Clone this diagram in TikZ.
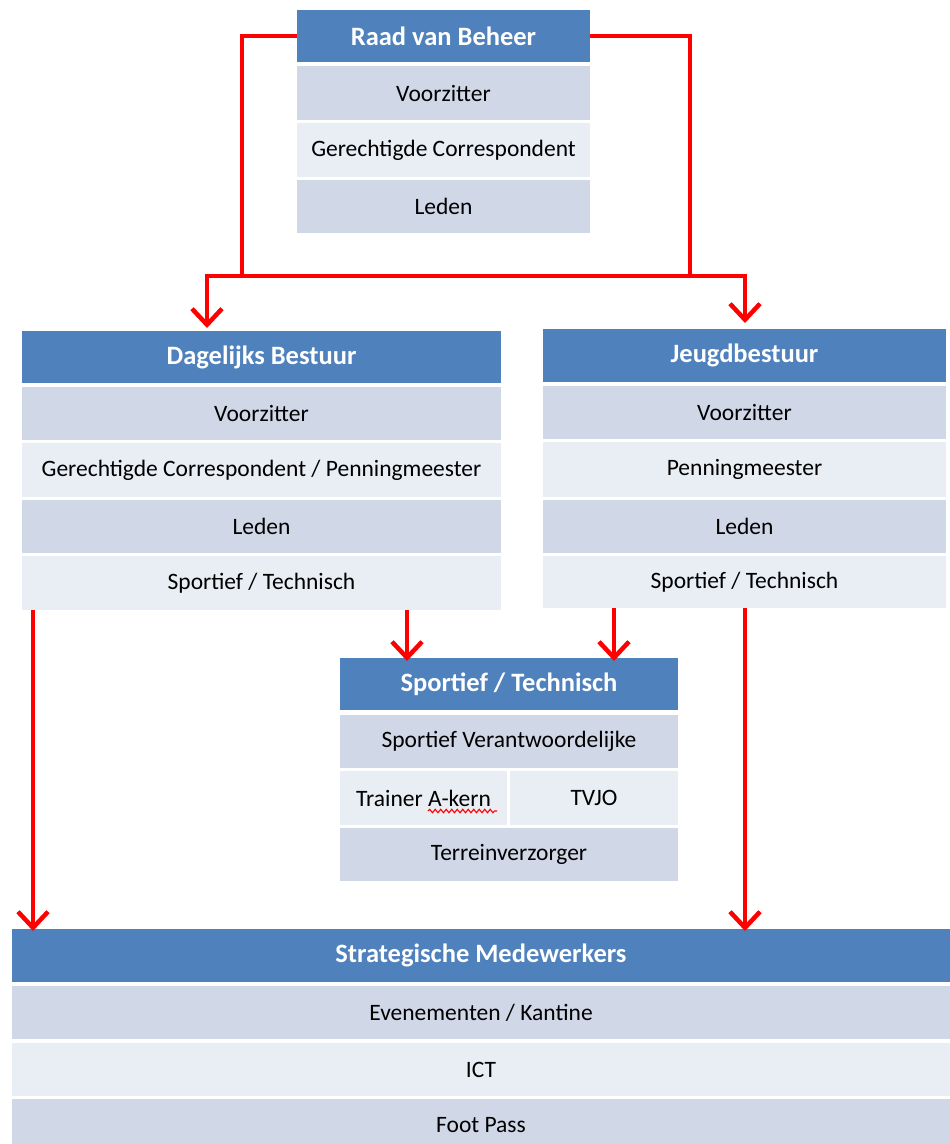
\documentclass[tikz,border=0pt]{standalone}
\usepackage{fontspec}
\setmainfont{Carlito}
\usetikzlibrary{arrows.meta,decorations.pathmorphing}
\definecolor{hblue}{HTML}{4F81BD}
\definecolor{rdark}{HTML}{D0D8E8}
\definecolor{rlight}{HTML}{E9EDF4}
\definecolor{lred}{HTML}{FF0000}
\newcommand{\cellbox}[7]{\node[#6, minimum width={(#4-#2)*1pt}, minimum height={(#5-#3)*1pt}] (#1) at ({(#2+#4)/2},{(#3+#5)/2}) {#7};}
\begin{document}
\begin{tikzpicture}[x=1pt,y=-1pt,
  cellbase/.style={inner sep=0pt, outer sep=0pt, draw=none},
  hdr/.style={cellbase, fill=hblue, text=white, font=\fontsize{26.5}{30}\selectfont\bfseries},
  rowd/.style={cellbase, fill=rdark, text=black, font=\fontsize{23.5}{27}\selectfont},
  rowl/.style={cellbase, fill=rlight, text=black, font=\fontsize{23.5}{27}\selectfont},
  conn/.style={draw=lred, line width=4.5pt},
  arr/.style={conn, -{Straight Barb[length=16pt, width=30pt]}},
  squig/.style={draw=lred, line width=1.1pt, decorate, decoration={snake, amplitude=1.7pt, segment length=5.5pt}}
]
\useasboundingbox (0,0) rectangle (950,1144);
\fill[white] (0,0) rectangle (950,1144);

% Raad van Beheer
\cellbox{raadH}{297}{10}{590}{62}{hdr}{Raad van Beheer}
\cellbox{raad1}{297}{66}{590}{120}{rowd}{Voorzitter}
\cellbox{raad2}{297}{123}{590}{177}{rowl}{Gerechtigde Correspondent}
\cellbox{raad3}{297}{180}{590}{233}{rowd}{Leden}

% Dagelijks Bestuur
\cellbox{dagH}{22}{331}{501}{383}{hdr}{Dagelijks Bestuur}
\cellbox{dag1}{22}{387}{501}{440}{rowd}{Voorzitter}
\cellbox{dag2}{22}{443}{501}{497}{rowl}{Gerechtigde Correspondent / Penningmeester}
\cellbox{dag3}{22}{500}{501}{553}{rowd}{Leden}
\cellbox{dag4}{22}{556}{501}{610}{rowl}{Sportief / Technisch}

% Jeugdbestuur
\cellbox{jeuH}{543}{329}{946}{382}{hdr}{Jeugdbestuur}
\cellbox{jeu1}{543}{386}{946}{439}{rowd}{Voorzitter}
\cellbox{jeu2}{543}{442}{946}{497}{rowl}{Penningmeester}
\cellbox{jeu3}{543}{500}{946}{553}{rowd}{Leden}
\cellbox{jeu4}{543}{556}{946}{608}{rowl}{Sportief / Technisch}

% Sportief / Technisch
\cellbox{spH}{340}{658}{678}{710}{hdr}{Sportief / Technisch}
\cellbox{sp1}{340}{715}{678}{768}{rowd}{Sportief Verantwoordelijke}
\cellbox{sp2a}{340}{771}{507}{825}{rowl}{Trainer A-kern}
\cellbox{sp2b}{510}{771}{678}{825}{rowl}{TVJO}
\cellbox{sp3}{340}{828}{678}{881}{rowd}{Terreinverzorger}

% Strategische Medewerkers
\cellbox{stH}{12}{929}{950}{982}{hdr}{Strategische Medewerkers}
\cellbox{st1}{12}{986}{950}{1039}{rowd}{Evenementen / Kantine}
\cellbox{st2}{12}{1043}{950}{1096}{rowl}{ICT}
\cellbox{st3}{12}{1099}{950}{1152}{rowd}{Foot Pass}

% spell-check squiggle
\coordinate (sqA) at (428,811);
\coordinate (sqB) at (497,811);
\draw[squig] (sqA) -- (sqB);

% connectors
\coordinate (jL) at (242,276);
\coordinate (jR) at (690,276);
\coordinate (tipL) at (207,328);
\coordinate (tipR) at (745,323);
\draw[conn] (raadH.west) -| (jL);
\draw[conn] (raadH.east) -| (jR);
\draw[conn] ([xshift=-2.25pt]jL) -- ([xshift=2.25pt]jR);
\draw[arr] (jL) -| (tipL);
\draw[arr] (jR) -| (tipR);

\draw[arr] (dag4.south -| 407,0) -- ([yshift=-3pt]spH.north -| 407,0);
\draw[arr] (jeu4.south -| 614,0) -- ([yshift=-3pt]spH.north -| 614,0);
\draw[arr] (dag4.south -| 33,0) -- ([yshift=-2pt]stH.north -| 33,0);
\draw[arr] (jeu4.south -| 745,0) -- ([yshift=-2pt]stH.north -| 745,0);
\end{tikzpicture}
\end{document}
